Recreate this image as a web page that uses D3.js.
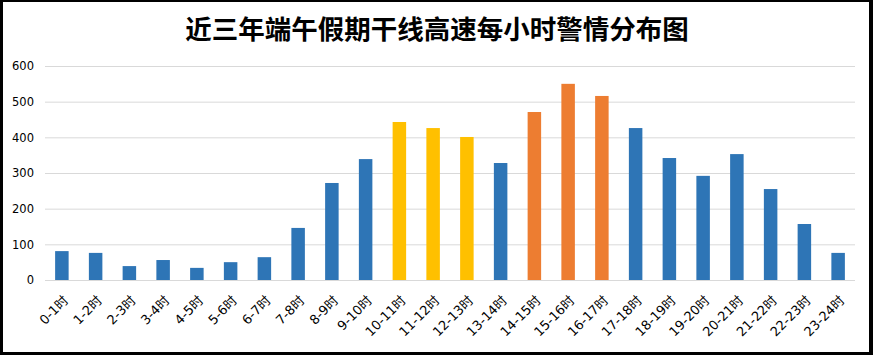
<!DOCTYPE html>
<html><head><meta charset="utf-8">
<script src="https://cdn.jsdelivr.net/npm/d3@7"></script>
<style>html,body{margin:0;padding:0;background:#fff;}svg{display:block;}</style>
</head><body>
<script>
const categories = ["0-1时","1-2时","2-3时","3-4时","4-5时","5-6时","6-7时","7-8时","8-9时","9-10时","10-11时","11-12时","12-13时","13-14时","14-15时","15-16时","16-17时","17-18时","18-19时","19-20时","20-21时","21-22时","22-23时","23-24时"];
const values = [81,76,39,56,34,50,64,146,272,339,443,426,401,328,471,550,516,426,342,292,353,255,157,76];
const groups = ["n","n","n","n","n","n","n","n","n","n","y","y","y","n","o","o","o","n","n","n","n","n","n","n"];
const yTicks = [0,100,200,300,400,500,600];
const title = "近三年端午假期干线高速每小时警情分布图";
const palette = {n:"#2E75B6", y:"#FFC000", o:"#ED7D31"};

const W = 873, H = 355;
const svg = d3.select("body").append("svg").attr("width", W).attr("height", H);
svg.append("rect").attr("width", W).attr("height", H).attr("fill", "#000");
svg.append("rect").attr("x", 3).attr("y", 2).attr("width", 866).attr("height", 350).attr("fill", "#fff");

const x = d3.scaleBand().domain(categories).range([45, 855]).paddingInner(0.6).paddingOuter(0.3);
const y = d3.scaleLinear().domain([0, 600]).range([280, 66]);

svg.append("text").attr("x", 437).attr("y", 39).attr("text-anchor", "middle")
  .attr("font-family", "'Noto Sans CJK SC'").attr("font-weight", "bold").attr("font-size", 26.5)
  .attr("fill", "#000").text(title);

const yAxis = d3.axisLeft(y).tickValues(yTicks).tickSize(-810).tickPadding(11);
const gy = svg.append("g").attr("transform", "translate(45,0)").call(yAxis);
gy.select(".domain").remove();
gy.selectAll(".tick line").attr("stroke", "#D9D9D9").attr("stroke-width", 1);
gy.selectAll(".tick text").attr("font-family", "'DejaVu Sans'").attr("font-size", 11.5).attr("fill", "#000");

svg.append("g").selectAll("rect").data(values).join("rect")
  .attr("x", (d, i) => x(categories[i]))
  .attr("width", x.bandwidth())
  .attr("y", d => y(d))
  .attr("height", d => y(0) - y(d))
  .attr("fill", (d, i) => palette[groups[i]]);

const xAxis = d3.axisBottom(x).tickSize(0).tickPadding(0);
const gx = svg.append("g").attr("transform", "translate(0,280)").call(xAxis);
gx.select(".domain").remove();
gx.selectAll(".tick text")
  .attr("font-family", "'DejaVu Sans','Noto Sans CJK SC'").attr("font-size", 13).attr("fill", "#000")
  .attr("text-anchor", "end").attr("dy", "0.35em")
  .attr("transform", "translate(4,18) rotate(-45)");
</script>
</body></html>
